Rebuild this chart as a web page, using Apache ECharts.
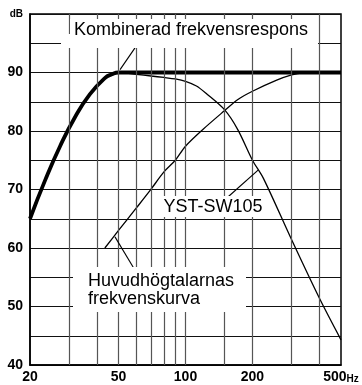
<!DOCTYPE html>
<html><head><meta charset="utf-8">
<script src="https://cdn.jsdelivr.net/npm/echarts@6/dist/echarts.min.js"></script>
<style>html,body{margin:0;padding:0;background:#fff}#c{width:362px;height:385px}</style>
</head><body><div id="c"></div>
<script>
// Frequency axis (Hz, logarithmic) and level axis (dB)
const freqLabels = [20, 50, 100, 200, 500];
const freqGrid = [30, 40, 50, 60, 70, 80, 90, 100, 150, 200, 300, 400];

// Combined response of subwoofer + main speakers
const combinedResponse = [[20,65],[23.4,71.6],[27.3,77.4],[31.9,82.4],[37.2,86.3],[43.4,89.05],[46.7,89.7],[50,90],[60,90],[100,90],[200,90],[300,90],[500,90]];
// YST-SW105 subwoofer
const subwooferResponse = [[50,90],[60,89.7],[70,89.4],[80,89.15],[90,88.9],[100,88.5],[112,87.7],[124,86.4],[150,83.6],[172,80.2],[200,75],[224,71.9],[300,61.4],[400,51.4],[500,44.3]];
// Main speakers
const mainSpeakerResponse = [[43.4,60],[50,63],[60,66.8],[69.2,69.8],[80,73],[90,75],[100,77.4],[120,80.3],[150,83.5],[172,85.4],[200,86.8],[257,88.7],[300,89.6],[338,89.95],[400,90],[500,90]];

// Callout arrows: [from, to] in (Hz, dB)
const arrowCombined = [[59.3,94.2],[50.8,90.5]];
const arrowSubwoofer = [[156,68.8],[212,73.3]];
const arrowMain = [[59.3,56.2],[48.2,61.9]];

const chart = echarts.init(document.getElementById('c'), null, {renderer:'canvas'});
const FONT = 'Liberation Sans, Arial, sans-serif';

chart.setOption({
  animation: false,
  backgroundColor: '#fff',
  grid: {left:30, right:21, top:14, bottom:20, show:true, borderColor:'#000', borderWidth:1.5, backgroundColor:'transparent'},
  xAxis: {
    type:'log', logBase:10, min:20, max:500,
    axisLine:{show:true, lineStyle:{color:'#000', width:1.5}},
    axisTick:{show:false},
    splitLine:{show:false},
    axisLabel:{
      customValues: freqLabels,
      margin:5, color:'#000', fontFamily:FONT, fontWeight:'bold', fontSize:14,
      formatter: v => v === 500 ? '500{u|Hz}' : String(v),
      rich:{u:{fontFamily:FONT, fontWeight:'bold', fontSize:10, color:'#000', verticalAlign:'bottom'}}
    }
  },
  yAxis: {
    type:'value', min:40, max:100, interval:5,
    axisLine:{show:true, lineStyle:{color:'#000', width:1.5}},
    axisTick:{show:false},
    splitLine:{show:true, lineStyle:{color:'#111', width:1}},
    axisLabel:{
      margin:7, color:'#000', fontFamily:FONT, fontWeight:'bold', fontSize:14,
      formatter: v => v === 100 ? '{u|dB}' : (v % 10 === 0 ? String(v) : ''),
      rich:{u:{fontFamily:FONT, fontWeight:'bold', fontSize:10, color:'#000'}}
    }
  },
  series: [
    {
      type:'line', data:[], silent:true,
      markLine:{silent:true, symbol:'none', label:{show:false}, animation:false,
        lineStyle:{color:'#555', width:1.2, type:'solid'},
        data: freqGrid.map(f => ({xAxis:f}))}
    },
    {type:'line', name:'Huvudhögtalarnas frekvenskurva', data:mainSpeakerResponse, smooth:0.3, showSymbol:false, lineStyle:{color:'#000', width:1.3}, z:3},
    {type:'line', name:'YST-SW105', data:subwooferResponse, smooth:0.3, showSymbol:false, lineStyle:{color:'#000', width:1.3}, z:3},
    {type:'line', name:'Kombinerad frekvensrespons', data:combinedResponse, smooth:0.5, showSymbol:false, lineStyle:{color:'#000', width:3.8}, z:4},
    {
      type:'line', data:[], silent:true, z:5,
      markLine:{silent:true, symbol:['none','arrow'], symbolSize:[0,11], label:{show:false}, animation:false,
        lineStyle:{color:'#000', width:1.1, type:'solid'},
        data:[arrowCombined, arrowSubwoofer, arrowMain].map(a => [{coord:a[0]},{coord:a[1]}])}
    }
  ],
  graphic: [
    {type:'rect', z:100, shape:{x:70, y:19, width:248, height:29}, style:{fill:'#fff'}},
    {type:'rect', z:100, shape:{x:61, y:34, width:12, height:14}, style:{fill:'#fff'}},
    {type:'text', z:101, x:191, y:30, style:{text:'Kombinerad frekvensrespons', font:'18px '+FONT, fill:'#000', align:'center', verticalAlign:'middle'}},
    {type:'rect', z:100, shape:{x:159, y:196, width:109, height:21}, style:{fill:'#fff'}},
    {type:'text', z:101, x:213, y:207, style:{text:'YST-SW105', font:'18px '+FONT, fill:'#000', align:'center', verticalAlign:'middle'}},
    {type:'rect', z:100, shape:{x:73, y:267, width:173, height:45}, style:{fill:'#fff'}},
    {type:'text', z:101, x:88, y:281, style:{text:'Huvudhögtalarnas', font:'18px '+FONT, fill:'#000', align:'left', verticalAlign:'middle'}},
    {type:'text', z:101, x:88, y:299, style:{text:'frekvenskurva', font:'18px '+FONT, fill:'#000', align:'left', verticalAlign:'middle'}}
  ]
});
</script>
</body></html>
